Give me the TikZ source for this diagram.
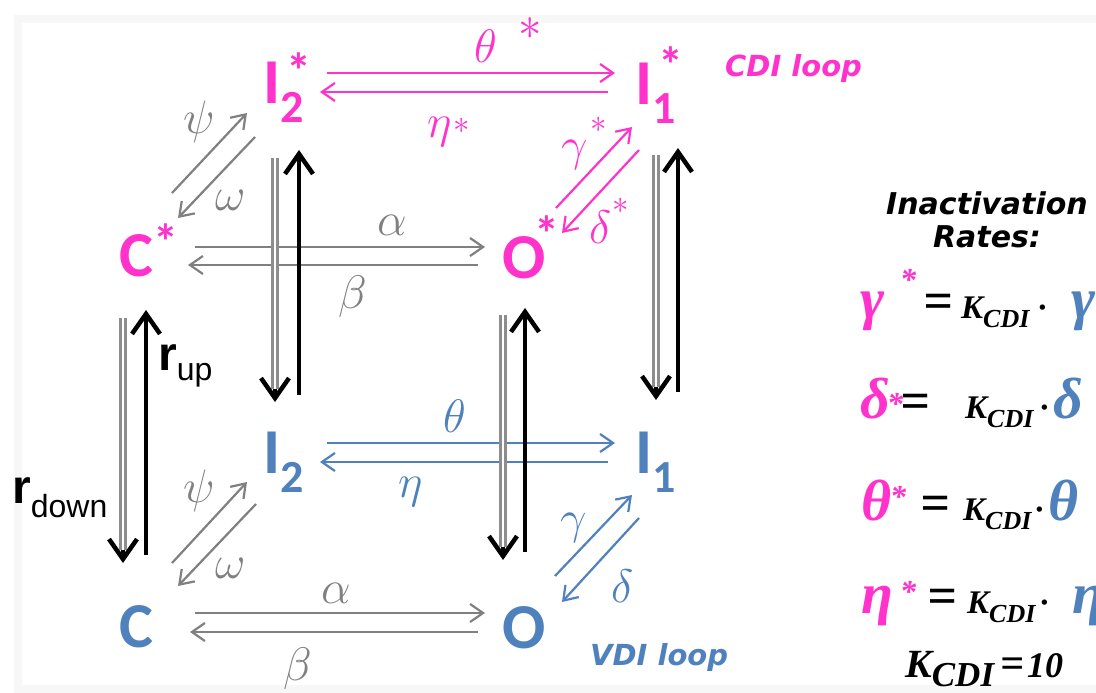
\RequirePackage{fix-cm}
\documentclass[tikz,border=0pt]{standalone}
\usepackage{fontspec}
\usetikzlibrary{arrows.meta}
\setmainfont{Carlito}
\newfontfamily\loopf{DejaVu Sans}
\newfontfamily\eqf{Liberation Serif}
\newfontfamily\rfam{Liberation Sans}
\definecolor{pk}{RGB}{255,51,204}
\definecolor{bl}{RGB}{79,129,189}
\definecolor{gr}{RGB}{128,128,128}
\newcommand\sx[3]{\rlap{\hspace{#1}\raisebox{#2}{$#3\ast$}}}
\newcommand\Sub[1]{\raisebox{-19pt}{\fontsize{46}{46}\selectfont #1}}
\newcommand\Star[2]{\rlap{\hspace{#1}\raisebox{#2}{\fontsize{50}{50}\selectfont *}}}
\newcommand\Kc{{\fontsize{33}{33}\selectfont K\raisebox{-9pt}{\fontsize{26}{26}\selectfont CDI}}}
\newcommand\Eqs[1]{{\fontsize{#1}{#1}\selectfont =}}
\newcommand\Gk[2]{{\color{#1}\fontsize{58}{58}\selectfont #2}}
\newcommand\Es[1]{{\color{pk}\raisebox{#1}{\fontsize{32}{32}\selectfont *}}}
\newcommand\Dt{{\fontsize{33}{33}\selectfont ·}}
\tikzset{
  st/.style={anchor=base west, inner sep=0pt, font=\fontsize{64}{64}\selectfont\bfseries},
  lb/.style={anchor=base west, inner sep=0pt, font=\fontsize{47}{47}\selectfont},
  arr/.style={line width=2.2pt, -{Straight Barb[length=13pt,width=18pt]}},
  blk/.style={black, line width=4.5pt, -{Straight Barb[length=20pt,width=28pt]}},
  dbl/.style={draw=gr!90, double=white, line width=2.4pt, double distance=2.4pt},
  eq/.style={anchor=base west, inner sep=0pt, font=\eqf\bfseries\itshape},
  loop/.style={anchor=base west, inner sep=0pt, font=\loopf\fontsize{29}{29}\selectfont\bfseries\itshape},
  ttl/.style={anchor=base, inner sep=0pt, font=\loopf\fontsize{30}{30}\selectfont\bfseries\itshape},
}
\begin{document}
\begin{tikzpicture}[x=1pt,y=-1pt]
\useasboundingbox (0,0) rectangle (1096,693);
\draw[black!3, line width=8pt] (18,19) rectangle (1120,689);

% states
\node[st, pk] (I2s) at (263,103) {I\Star{6pt}{15pt}\Sub{2}};
\node[st, pk] (I1s) at (635,104) {I\Star{6pt}{21pt}\Sub{1}};
\node[st, pk] (Cs) at (119,276) {C\raisebox{17pt}{\fontsize{50}{50}\selectfont *}};
\node[st, pk] (Os) at (502,278) {O\hspace{-11pt}\raisebox{27pt}{\fontsize{50}{50}\selectfont *}};
\node[st, bl] (I2) at (263,473) {I\Sub{2}};
\node[st, bl] (I1) at (635,473) {I\Sub{1}};
\node[st, bl] (C) at (119,647) {C};
\node[st, bl] (O) at (502,648) {O};

% horizontal arrows
\coordinate (a1s) at (327,73);  \coordinate (a1e) at (615,73);
\coordinate (a2s) at (608,92);  \coordinate (a2e) at (320,92);
\draw[arr, pk] (a1s) -- (a1e);
\draw[arr, pk] (a2s) -- (a2e);
\coordinate (b1s) at (195,247); \coordinate (b1e) at (485,247);
\coordinate (b2s) at (478,265); \coordinate (b2e) at (188,265);
\draw[arr, gr] (b1s) -- (b1e);
\draw[arr, gr] (b2s) -- (b2e);
\coordinate (c1s) at (327,443); \coordinate (c1e) at (615,443);
\coordinate (c2s) at (608,462); \coordinate (c2e) at (320,462);
\draw[arr, bl] (c1s) -- (c1e);
\draw[arr, bl] (c2s) -- (c2e);
\coordinate (d1s) at (195,613); \coordinate (d1e) at (485,613);
\coordinate (d2s) at (478,632); \coordinate (d2e) at (190,632);
\draw[arr, gr] (d1s) -- (d1e);
\draw[arr, gr] (d2s) -- (d2e);

% diagonal arrows
\coordinate (e1s) at (172,193); \coordinate (e1e) at (247,113);
\coordinate (e2s) at (255,137); \coordinate (e2e) at (178,218);
\draw[arr, gr] (e1s) -- (e1e);
\draw[arr, gr] (e2s) -- (e2e);
\coordinate (f1s) at (556,208); \coordinate (f1e) at (632,127);
\coordinate (f2s) at (639,150); \coordinate (f2e) at (562,233);
\draw[arr, pk] (f1s) -- (f1e);
\draw[arr, pk] (f2s) -- (f2e);
\coordinate (g1s) at (172,563); \coordinate (g1e) at (247,482);
\coordinate (g2s) at (256,504); \coordinate (g2e) at (178,586);
\draw[arr, gr] (g1s) -- (g1e);
\draw[arr, gr] (g2s) -- (g2e);
\coordinate (h1s) at (555,576); \coordinate (h1e) at (632,495);
\coordinate (h2s) at (639,518); \coordinate (h2e) at (562,602);
\draw[arr, bl] (h1s) -- (h1e);
\draw[arr, bl] (h2s) -- (h2e);

% vertical arrows
\coordinate (v1s) at (123,318); \coordinate (v1m) at (123,550); \coordinate (v1e) at (123,563);
\draw[dbl] (v1s) -- (v1m);
\draw[blk] (v1m) -- (v1e);
\coordinate (w1s) at (146,555); \coordinate (w1e) at (146,310);
\draw[blk] (w1s) -- (w1e);

\coordinate (v2s) at (275,158); \coordinate (v2m) at (275,389); \coordinate (v2e) at (275,402);
\draw[dbl] (v2s) -- (v2m);
\draw[blk] (v2m) -- (v2e);
\coordinate (w2s) at (299,395); \coordinate (w2e) at (299,150);
\draw[blk] (w2s) -- (w2e);

\coordinate (v3s) at (503,315); \coordinate (v3m) at (503,547); \coordinate (v3e) at (503,560);
\draw[dbl] (v3s) -- (v3m);
\draw[blk] (v3m) -- (v3e);
\coordinate (w3s) at (525,552); \coordinate (w3e) at (525,308);
\draw[blk] (w3s) -- (w3e);

\coordinate (v4s) at (656,155); \coordinate (v4m) at (656,387); \coordinate (v4e) at (656,400);
\draw[dbl] (v4s) -- (v4m);
\draw[blk] (v4m) -- (v4e);
\coordinate (w4s) at (678,392); \coordinate (w4e) at (678,148);
\draw[blk] (w4s) -- (w4e);

% rate labels
\node[lb, pk] (lths) at (474,63) {$\theta$\sx{22pt}{23pt}{}};
\node[lb, pk] (lets) at (427,137) {$\eta$\sx{2pt}{4pt}{\scriptstyle}};
\node[lb, gr] (lal1) at (377,235) {$\alpha$};
\node[lb, gr] (lbe1) at (338,308) {$\beta$};
\node[lb, gr] (lps1) at (183,133) {$\psi$};
\node[lb, gr] (lom1) at (215,210) {$\omega$};
\node[lb, pk] (lgas) at (561,160) {$\gamma$\sx{3pt}{28pt}{\scriptstyle}};
\node[lb, pk] (ldes) at (589,243) {$\delta$\sx{1pt}{30pt}{\scriptstyle}};
\node[lb, bl] (lth) at (443,432) {$\theta$};
\node[lb, bl] (let) at (398,497) {$\eta$};
\node[lb, gr] (lps2) at (183,502) {$\psi$};
\node[lb, gr] (lom2) at (215,578) {$\omega$};
\node[lb, gr] (lal2) at (321,603) {$\alpha$};
\node[lb, gr] (lbe2) at (283,680) {$\beta$};
\node[lb, bl] (lga) at (560,533) {$\gamma$};
\node[lb, bl] (lde) at (611,602) {$\delta$};

\node[anchor=base west, inner sep=0pt, font=\rfam\fontsize{48}{48}\selectfont] (rup) at (158,370) {\textbf{r}\raisebox{-10pt}{\fontsize{32}{32}\selectfont up}};
\node[anchor=base west, inner sep=0pt, font=\rfam\fontsize{48}{48}\selectfont] (rdown) at (12,503) {\textbf{r}\raisebox{-14pt}{\fontsize{32}{32}\selectfont down}};

\node[loop, pk] (cdi) at (725,77) {CDI loop};
\node[loop, bl] (vdi) at (590,665) {VDI loop};

% inactivation rates
\node[ttl] (t1) at (987,214) {Inactivation};
\node[ttl] (t2) at (987,247) {Rates:};

\node[eq] (q1) at (860,318) {\makebox[40pt][l]{\Gk{pk}{γ}}\makebox[23pt][l]{\Es{28pt}}\makebox[38pt][l]{\Eqs{52}}\makebox[77pt][l]{\Kc}\makebox[33pt][l]{\Dt}\Gk{bl}{γ}};
\node[eq] (q2) at (860,418) {\makebox[27pt][l]{\Gk{pk}{δ}}\makebox[13pt][l]{\Es{4pt}}\makebox[65pt][l]{\Eqs{52}}\makebox[75pt][l]{\Kc}\makebox[13pt][l]{\Dt}\Gk{bl}{δ}};
\node[eq] (q3) at (861,520) {\makebox[29pt][l]{\Gk{pk}{θ}}\makebox[30pt][l]{\Es{13pt}}\makebox[43pt][l]{\Eqs{52}}\makebox[72pt][l]{\Kc}\makebox[13pt][l]{\Dt}\Gk{bl}{θ}};
\node[eq] (q4) at (861,613) {\makebox[39pt][l]{\Gk{pk}{η}}\makebox[27pt][l]{\Es{11pt}}\makebox[40pt][l]{\Eqs{52}}\makebox[73pt][l]{\Kc}\makebox[32pt][l]{\Dt}\Gk{bl}{η}};
\node[eq] (q5) at (905,677) {\makebox[95pt][l]{{\fontsize{40}{40}\selectfont K\raisebox{-9pt}{\fontsize{35}{35}\selectfont CDI}}}\makebox[27pt][l]{\Eqs{42}}{\fontsize{36}{36}\selectfont 10}};
\end{tikzpicture}
\end{document}
